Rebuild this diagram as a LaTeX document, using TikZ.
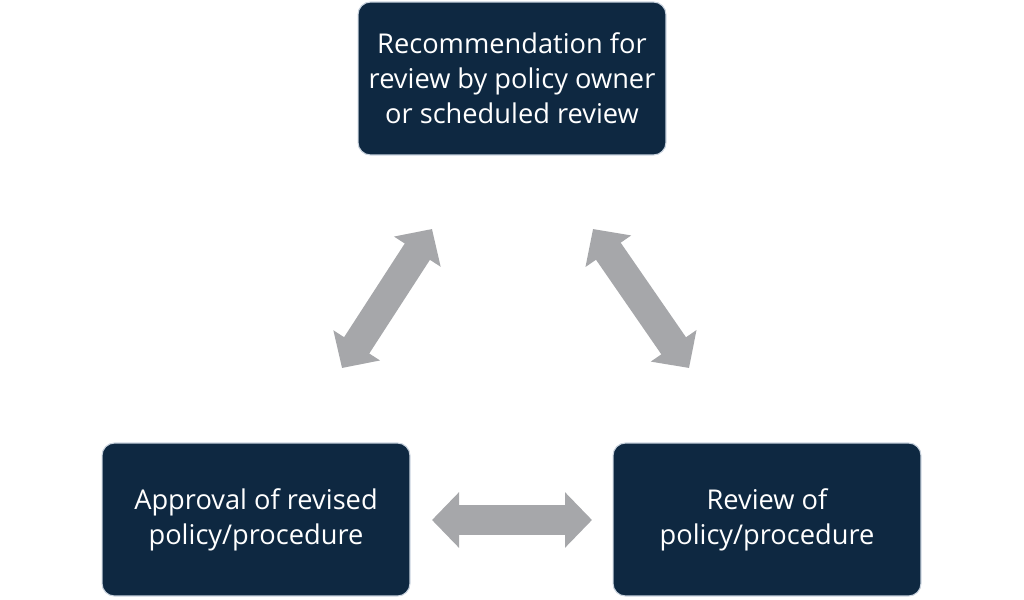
\documentclass[tikz,border=0pt]{standalone}
\usepackage{fontspec}
\setmainfont{Open Sans}
\usetikzlibrary{arrows.meta}
\definecolor{navy}{HTML}{0E2841}
\definecolor{arrowgray}{HTML}{A6A7AA}
\definecolor{edgeblue}{HTML}{C9D3DE}

\begin{document}
\begin{tikzpicture}[x=0.02cm,y=-0.02cm,
    box/.style={draw=edgeblue,line width=0.6pt,fill=navy,rounded corners=0.25cm,
        minimum width=6.16cm,minimum height=3.06cm,text=white,align=center,
        font=\fontsize{15.5}{20}\selectfont},
    link/.style={draw=arrowgray,line width=0.6cm,
        {Triangle[width=1.08cm,length=0.54cm]}-{Triangle[width=1.08cm,length=0.54cm]}}]
    \useasboundingbox (0,0) rectangle (1024,599);
    \node [box] (Top) at (512,78.5) {Recommendation for\\review by policy owner\\or scheduled review};
    \node [box] (Left) at (256,519.5) {Approval of revised\\policy/procedure};
    \node [box] (Right) at (767,519.5) {Review of\\policy/procedure};
    \coordinate (L1) at (342,368);
    \coordinate (L2) at (432,229);
    \coordinate (R1) at (593,229);
    \coordinate (R2) at (689,368);
    \coordinate (B1) at (432,520);
    \coordinate (B2) at (592,520);
    \draw [link] (L1) -- (L2);
    \draw [link] (R1) -- (R2);
    \draw [link] (B1) -- (B2);
\end{tikzpicture}
\end{document}
